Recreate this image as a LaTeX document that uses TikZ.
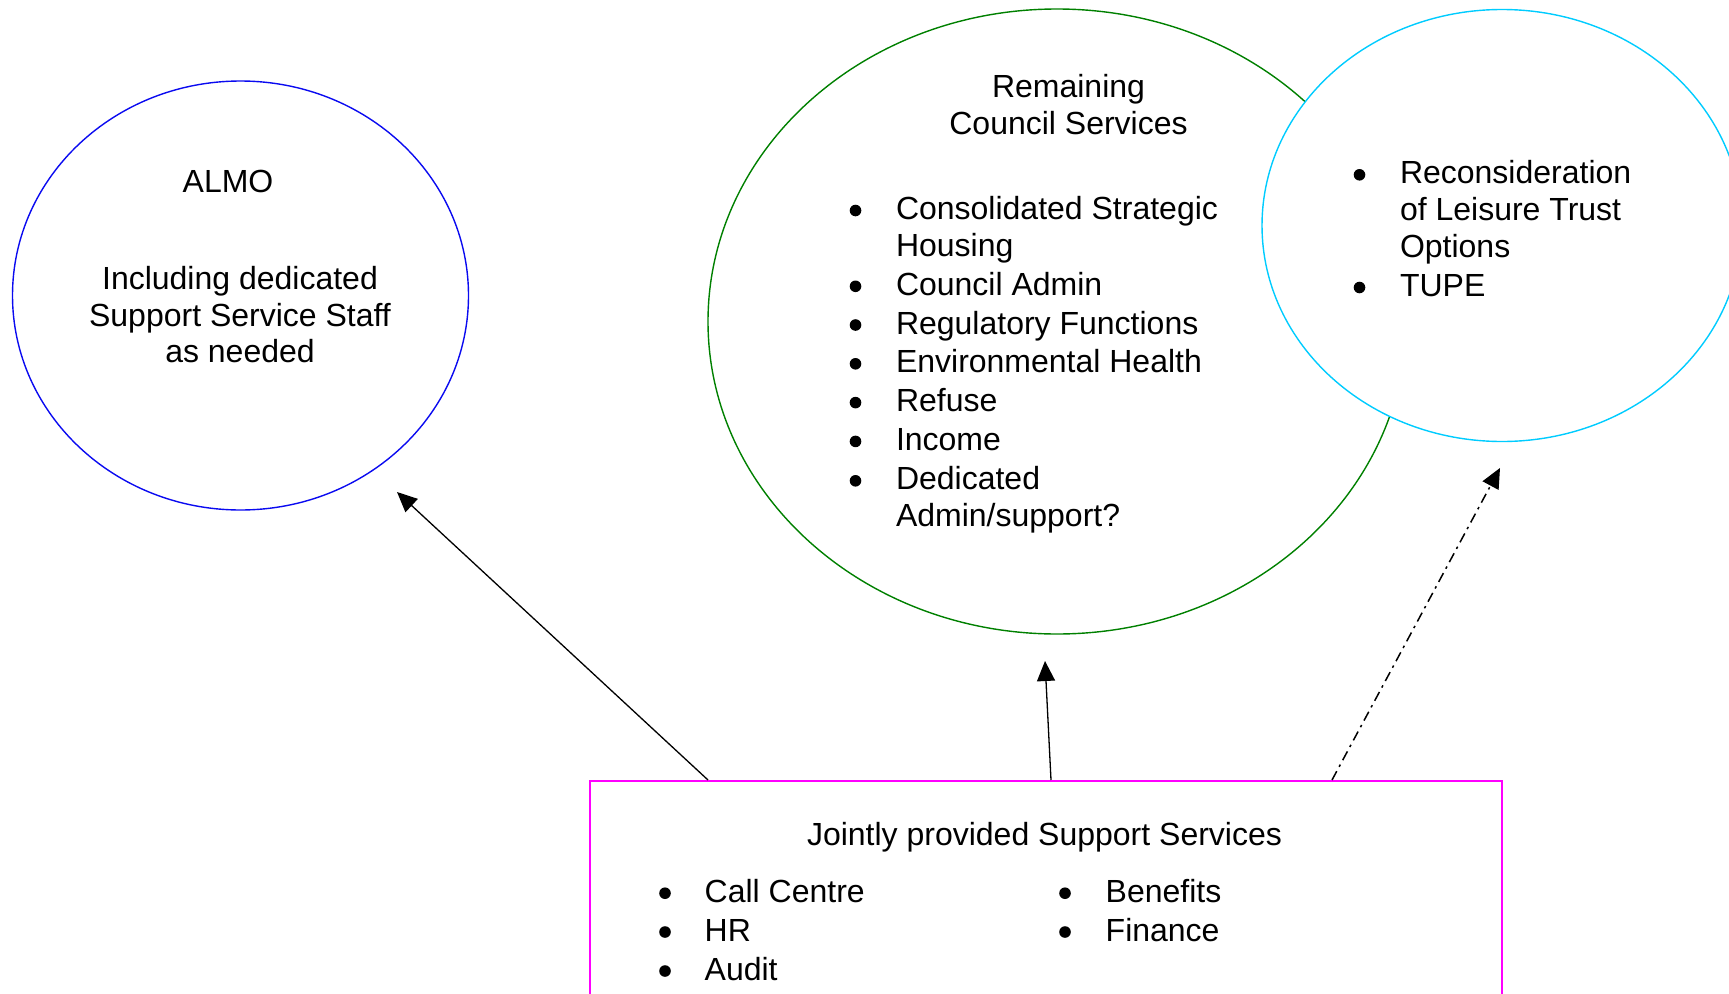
\documentclass[tikz,border=0pt]{standalone}
\usepackage{fontspec}
\setmainfont{Liberation Sans}
\usetikzlibrary{shapes.geometric,arrows.meta,calc}
\definecolor{almoblue}{RGB}{10,10,240}
\definecolor{councilgreen}{RGB}{0,128,0}
\definecolor{leisurecyan}{RGB}{0,204,255}
\definecolor{supportmagenta}{RGB}{255,0,255}
\begin{document}
\begin{tikzpicture}[x=1pt,y=-1pt,
  txt/.style={inner sep=0pt, font=\fontsize{32}{36.7}\selectfont, anchor=base west},
  ctxt/.style={txt, anchor=base},
  blt/.style={circle, fill=black, inner sep=0pt, minimum size=11.6pt, yshift=9pt},
  oval/.style={ellipse, line width=1.4pt, inner sep=0pt},
  link/.style={line width=1.3pt, -{Triangle[length=20pt,width=18pt]}},
  maybelink/.style={link, line width=1.5pt, dash pattern=on 10pt off 5pt on 2.5pt off 5pt},
]
\useasboundingbox (0,0) rectangle (1729,993);

% --- ALMO ---
\node[oval, draw=almoblue, minimum width=456pt, minimum height=429pt] (almo) at (240.5,295.5) {};
\node[ctxt] (almoT) at (228,192.7) {ALMO};
\node[ctxt] (almo1) at (240,289.3) {Including dedicated};
\node[ctxt] (almo2) at (240,326) {Support Service Staff};
\node[ctxt] (almo3) at (240,362.7) {as needed};

% --- Remaining council services ---
\node[oval, draw=councilgreen, minimum width=698pt, minimum height=625pt] (council) at (1057,321.5) {};
\node[ctxt] (councilT1) at (1068.5,97.7) {Remaining};
\node[ctxt] (councilT2) at (1068.5,134.3) {Council Services};
\node[blt] (cb1) at (855.5,219.5) {};
\node[txt] (c1) at (895.8,219.5) {Consolidated Strategic};
\node[txt] (c1b) at (895.8,256.2) {Housing};
\node[blt] (cb2) at (855.5,295.3) {};
\node[txt] (c2) at (895.8,295.3) {Council Admin};
\node[blt] (cb3) at (855.5,334) {};
\node[txt] (c3) at (895.8,334) {Regulatory Functions};
\node[blt] (cb4) at (855.5,372.8) {};
\node[txt] (c4) at (895.8,372.8) {Environmental Health};
\node[blt] (cb5) at (855.5,411.6) {};
\node[txt] (c5) at (895.8,411.6) {Refuse};
\node[blt] (cb6) at (855.5,450.4) {};
\node[txt] (c6) at (895.8,450.4) {Income};
\node[blt] (cb7) at (855.5,489.8) {};
\node[txt] (c7) at (895.8,489.8) {Dedicated};
\node[txt] (c7b) at (895.8,526) {Admin/support?};

% --- Leisure trust (drawn over the green outline) ---
\node[oval, draw=leisurecyan, fill=white, minimum width=480pt, minimum height=432pt] (leisure) at (1502,225.5) {};
\node[blt] (lb1) at (1359.5,183.8) {};
\node[txt] (l1) at (1399.8,183.8) {Reconsideration};
\node[txt] (l1b) at (1399.8,220.5) {of Leisure Trust};
\node[txt] (l1c) at (1399.8,257.2) {Options};
\node[blt] (lb2) at (1359.5,296.5) {};
\node[txt] (l2) at (1399.8,296.5) {TUPE};

% --- Jointly provided support services ---
\node[draw=supportmagenta, line width=1.8pt, anchor=north west, inner sep=0pt,
      minimum width=912pt, minimum height=240pt] (support) at (589,780) {};
\node[ctxt] (supportT) at (1044.5,845.5) {Jointly provided Support Services};
\node[blt] (sb1) at (665,902.2) {};
\node[txt] (s1) at (704.5,902.2) {Call Centre};
\node[blt] (sb2) at (665,941) {};
\node[txt] (s2) at (704.5,941) {HR};
\node[blt] (sb3) at (665,980) {};
\node[txt] (s3) at (704.5,980) {Audit};
\node[blt] (sb4) at (1065,902.2) {};
\node[txt] (s4) at (1105.5,902.2) {Benefits};
\node[blt] (sb5) at (1065,941) {};
\node[txt] (s5) at (1105.5,941) {Finance};

% --- connectors ---
\coordinate (toAlmo) at (397,492);
\coordinate (toCouncil) at (1045,661);
\coordinate (toLeisure) at (1500,468);
\draw[link] ($(support.north west)+(119,0)$) -- (toAlmo);
\draw[link] ($(support.north west)+(462,0)$) -- (toCouncil);
\draw[maybelink] ($(support.north west)+(743,0)$) -- (toLeisure);
\end{tikzpicture}
\end{document}
